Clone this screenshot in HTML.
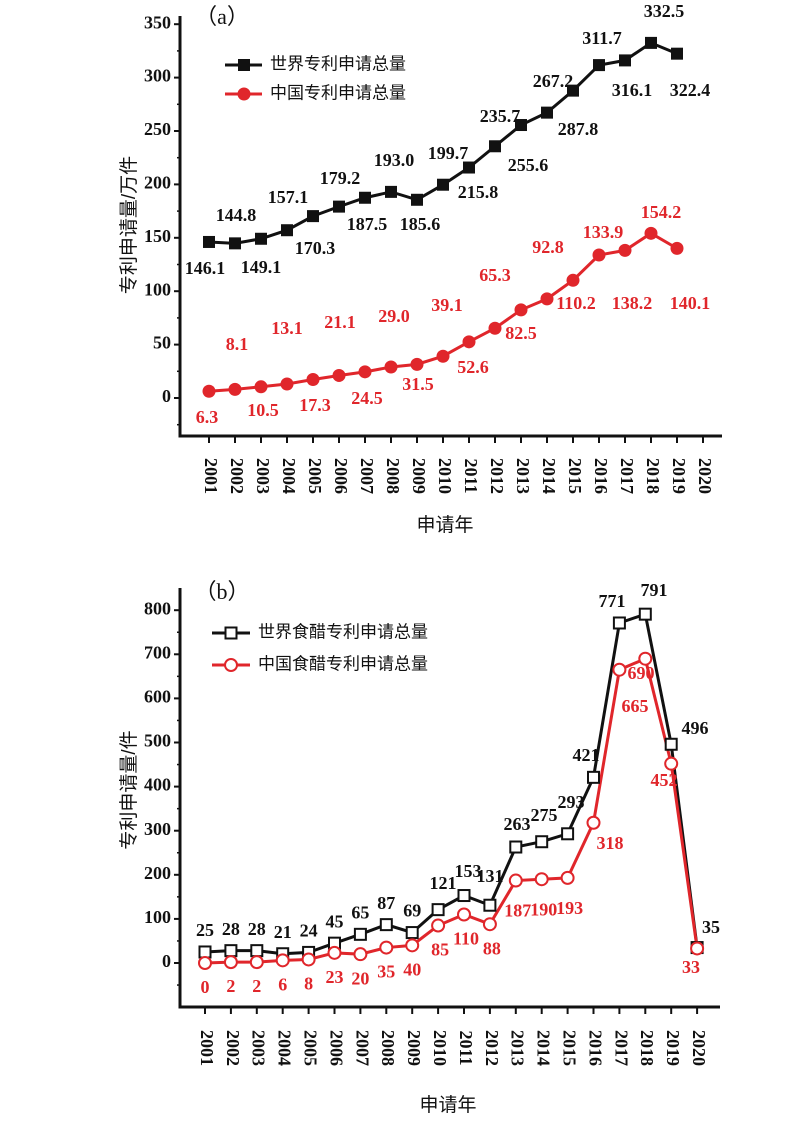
<!DOCTYPE html>
<html><head><meta charset="utf-8"><style>
html,body{margin:0;padding:0;background:#fff}
svg{display:block}
.t{font-family:"Liberation Serif",serif;font-weight:bold;font-size:18px}
.c{font-family:"Liberation Sans","Noto Sans CJK SC",sans-serif;font-size:17px}
.y{font-family:"Liberation Sans","Noto Sans CJK SC",sans-serif;font-size:19px}
.h{font-family:"Liberation Serif","Noto Sans CJK SC",serif;font-size:22px}
</style></head><body>
<svg id="s" width="802" height="1134" viewBox="0 0 802 1134" xmlns="http://www.w3.org/2000/svg"></svg>
<script>
const s=document.getElementById('s');let h='';
function T(x,y,t,o){o=o||{};h+=`<text class="${o.cls||'t'}" x="${x}" y="${y}" fill="${o.f||'#111'}" text-anchor="${o.a||'middle'}" ${o.tr?`transform="${o.tr}"`:''} dominant-baseline="middle">${t}</text>`;}
// ---------- chart a ----------
(function(){
 const X0=209,dx=26,Y0=398,ky=53.4/50;
 const X=i=>X0+i*dx,Y=v=>Y0-v*ky;
 h+=`<path d="M180 16 V436 H722" fill="none" stroke="#111" stroke-width="3"/>`;
 for(let v=0;v<=350;v+=50){h+=`<line x1="174" x2="180" y1="${Y(v)}" y2="${Y(v)}" stroke="#111" stroke-width="2"/>`;T(171,Y(v),v,{a:'end'});}
 for(let v=25;v<=375;v+=50){if(Y(v)>16)h+=`<line x1="177" x2="180" y1="${Y(v)}" y2="${Y(v)}" stroke="#111" stroke-width="1.5"/>`;}
 h+=`<line x1="177" x2="180" y1="${Y(-25)}" y2="${Y(-25)}" stroke="#111" stroke-width="1.5"/>`;
 for(let i=0;i<20;i++){h+=`<line x1="${X(i)}" x2="${X(i)}" y1="436" y2="443" stroke="#111" stroke-width="2"/>`;T(X(i),476,2001+i,{tr:`rotate(90 ${X(i)} 476)`});}
 T(445,526,'申请年',{cls:'y'});
 T(130,225,'专利申请量/万件',{cls:'y',tr:'rotate(-90 130 225)'});
 T(222,19,'（a）',{cls:'h'});
 const w=[146.1,144.8,149.1,157.1,170.3,179.2,187.5,193.0,185.6,199.7,215.8,235.7,255.6,267.2,287.8,311.7,316.1,332.5,322.4];
 const r=[6.3,8.1,10.5,13.1,17.3,21.1,24.5,29.0,31.5,39.1,52.6,65.3,82.5,92.8,110.2,133.9,138.2,154.2,140.1];
 const wl=[[205,270],[236,217],[261,269],[288,199],[315,250],[340,180],[367,226],[394,162],[420,226],[448,155],[478,194],[500,118],[528,167],[553,83],[578,131],[602,40],[632,92],[664,13],[690,92]];
 const rl=[[207,419],[237,346],[263,412],[287,330],[315,407],[340,324],[367,400],[394,318],[418,386],[447,307],[473,369],[495,277],[521,335],[548,249],[576,305],[603,234],[632,305],[661,214],[690,305]];
 h+=`<polyline points="${w.map((v,i)=>X(i)+','+Y(v)).join(' ')}" fill="none" stroke="#111" stroke-width="3"/>`;
 w.forEach((v,i)=>{h+=`<rect x="${X(i)-6}" y="${Y(v)-6}" width="12" height="12" fill="#111"/>`;});
 h+=`<polyline points="${r.map((v,i)=>X(i)+','+Y(v)).join(' ')}" fill="none" stroke="#e0262b" stroke-width="3"/>`;
 r.forEach((v,i)=>{h+=`<circle cx="${X(i)}" cy="${Y(v)}" r="6.5" fill="#e0262b"/>`;});
 w.forEach((v,i)=>T(wl[i][0],wl[i][1],v.toFixed(1)));
 r.forEach((v,i)=>T(rl[i][0],rl[i][1],v.toFixed(1),{f:'#e0262b'}));
 h+=`<line x1="225" x2="262" y1="65" y2="65" stroke="#111" stroke-width="3"/><rect x="238" y="59" width="12" height="12" fill="#111"/>`;
 T(270,65,'世界专利申请总量',{cls:'c',a:'start'});
 h+=`<line x1="225" x2="262" y1="94" y2="94" stroke="#e0262b" stroke-width="3"/><circle cx="244" cy="94" r="6.5" fill="#e0262b"/>`;
 T(270,94,'中国专利申请总量',{cls:'c',a:'start',f:'#111'});
})();
// ---------- chart b ----------
(function(){
 const X0=205,dx=25.9,Y0=963,ky=44.1/100;
 const X=i=>X0+i*dx,Y=v=>Y0-v*ky;
 h+=`<path d="M180 588 V1007 H720" fill="none" stroke="#111" stroke-width="3"/>`;
 for(let v=0;v<=800;v+=100){h+=`<line x1="174" x2="180" y1="${Y(v)}" y2="${Y(v)}" stroke="#111" stroke-width="2"/>`;T(171,Y(v),v,{a:'end'});}
 for(let v=-50;v<=850;v+=100){if(Y(v)>590&&Y(v)<1005)h+=`<line x1="177" x2="180" y1="${Y(v)}" y2="${Y(v)}" stroke="#111" stroke-width="1.5"/>`;}
 for(let i=0;i<20;i++){h+=`<line x1="${X(i)}" x2="${X(i)}" y1="1007" y2="1014" stroke="#111" stroke-width="2"/>`;T(X(i),1048,2001+i,{tr:`rotate(90 ${X(i)} 1048)`});}
 T(448,1106,'申请年',{cls:'y'});
 T(130,790,'专利申请量/件',{cls:'y',tr:'rotate(-90 130 790)'});
 T(222,594,'（b）',{cls:'h'});
 const w=[25,28,28,21,24,45,65,87,69,121,153,131,263,275,293,421,771,791,496,35];
 const r=[0,2,2,6,8,23,20,35,40,85,110,88,187,190,193,318,665,690,452,33];
 h+=`<polyline points="${w.map((v,i)=>X(i)+','+Y(v)).join(' ')}" fill="none" stroke="#111" stroke-width="3"/>`;
 h+=`<polyline points="${r.map((v,i)=>X(i)+','+Y(v)).join(' ')}" fill="none" stroke="#e0262b" stroke-width="3"/>`;
 w.forEach((v,i)=>{h+=`<rect x="${X(i)-5.5}" y="${Y(v)-5.5}" width="11" height="11" fill="#fff" stroke="#111" stroke-width="2"/>`;});
 r.forEach((v,i)=>{h+=`<circle cx="${X(i)}" cy="${Y(v)}" r="6" fill="#fff" stroke="#e0262b" stroke-width="2"/>`;});
 const wo={9:[443,885],10:[468,873],11:[490,878],12:[517,826],13:[544,817],14:[571,804],15:[586,757],16:[612,603],17:[654,592],18:[695,730],19:[711,929]};
 const ro={15:[610,845],16:[635,708],17:[641,675],18:[664,782],19:[691,969]};
 w.forEach((v,i)=>{const p=wo[i]||[X(i),Y(v)-20];T(p[0],p[1],v);});
 r.forEach((v,i)=>{const p=ro[i]||[X(i)+(i>=9?2:0),Y(v)+(i>=12?32:26)];T(p[0],p[1],v,{f:'#e0262b'});});
 h+=`<line x1="212" x2="250" y1="633" y2="633" stroke="#111" stroke-width="3"/><rect x="225.5" y="627.5" width="11" height="11" fill="#fff" stroke="#111" stroke-width="2"/>`;
 T(258,633,'世界食醋专利申请总量',{cls:'c',a:'start'});
 h+=`<line x1="212" x2="250" y1="665" y2="665" stroke="#e0262b" stroke-width="3"/><circle cx="231" cy="665" r="6" fill="#fff" stroke="#e0262b" stroke-width="2"/>`;
 T(258,665,'中国食醋专利申请总量',{cls:'c',a:'start'});
})();
s.innerHTML=h;
</script>
</body></html>
